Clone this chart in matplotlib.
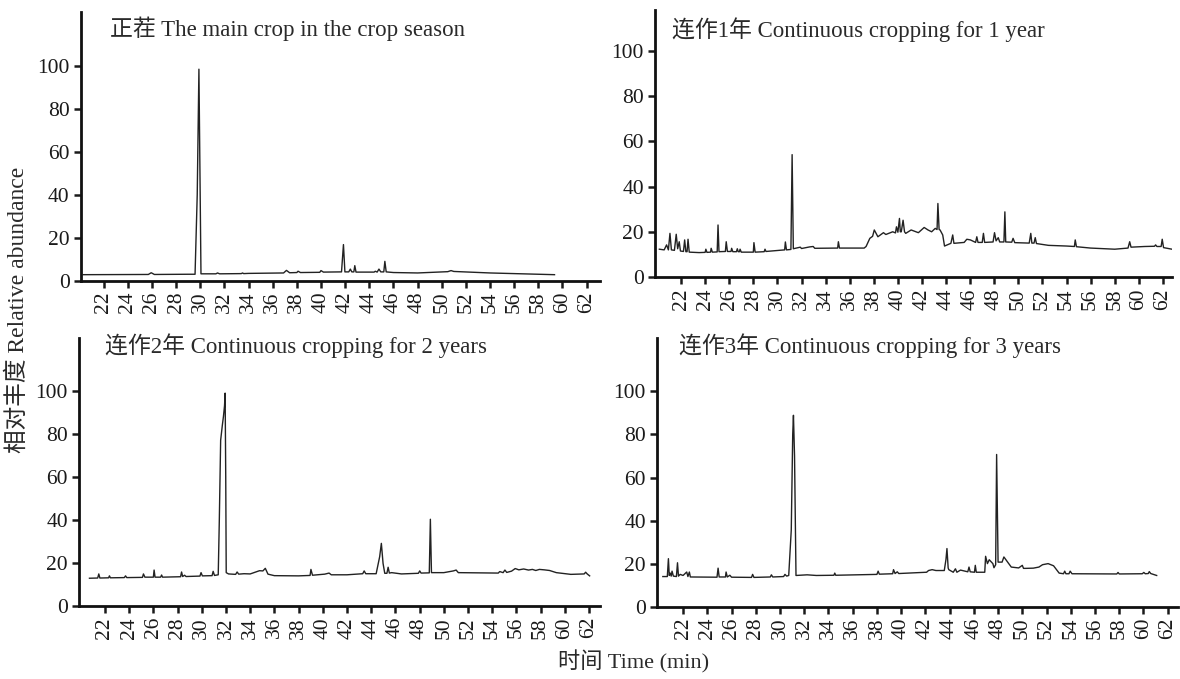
import matplotlib
matplotlib.use("Agg")
import matplotlib.pyplot as plt

plt.rcParams['font.family'] = ['Liberation Serif', 'Noto Sans CJK SC']

# (time min, relative abundance)
main_crop = [
    (20.3, 2.8), (25.7, 2.9), (25.94, 3.7), (26.2, 2.9), (29.0, 3.0), (29.57, 3.0),
    (29.75, 40.0), (29.89, 98.4), (30.06, 3.2), (31.3, 3.2), (31.43, 3.6), (31.6, 3.2),
    (33.4, 3.3), (33.5, 3.6), (33.6, 3.3), (34.0, 3.4), (36.9, 3.6), (37.14, 4.8),
    (37.4, 3.7), (38.0, 3.8), (38.1, 4.4), (38.3, 3.8), (39.9, 3.9), (40.0, 4.7),
    (40.2, 4.0), (41.7, 4.1), (41.86, 16.8), (41.98, 4.1), (42.3, 4.1), (42.43, 5.4),
    (42.55, 4.1), (42.72, 4.1), (42.8, 7.0), (42.9, 4.0), (44.4, 4.0), (44.5, 4.4),
    (44.65, 4.0), (44.8, 5.4), (44.95, 4.1), (45.2, 4.1), (45.29, 9.0), (45.4, 4.1),
    (46.0, 3.8), (48.0, 3.6), (50.5, 4.2), (50.77, 4.7), (51.0, 4.3), (54.0, 3.6),
    (59.34, 2.8),
]

year1 = [
    (20.2, 12.3), (20.6, 12.0), (20.8, 14.2), (20.95, 12.0), (21.08, 19.3), (21.2, 12.0),
    (21.45, 11.8), (21.6, 18.9), (21.72, 12.5), (21.85, 15.6), (21.95, 11.5), (22.2, 11.3),
    (22.3, 16.4), (22.4, 11.2), (22.5, 11.2), (22.58, 16.7), (22.68, 11.0), (23.5, 10.8),
    (24.0, 10.9), (24.06, 12.3), (24.15, 10.9), (24.45, 11.0), (24.5, 12.7), (24.6, 11.0),
    (25.0, 11.1), (25.07, 23.0), (25.15, 11.2), (25.68, 11.3), (25.75, 15.6), (25.85, 11.3),
    (26.15, 11.3), (26.2, 12.7), (26.3, 11.2), (26.6, 11.2), (26.67, 12.5), (26.75, 11.2),
    (26.85, 11.2), (26.9, 12.3), (27.0, 11.0), (28.0, 11.0), (28.05, 15.2), (28.15, 11.0),
    (28.9, 11.2), (28.97, 12.3), (29.05, 11.3), (30.0, 11.7), (30.6, 12.0), (30.66, 15.5),
    (30.75, 12.0), (31.12, 12.2), (31.22, 54.1), (31.32, 12.5), (31.9, 13.2), (32.0, 12.6),
    (32.66, 13.3), (32.97, 13.5), (33.1, 12.7), (35.0, 12.8), (35.06, 15.6), (35.15, 12.8),
    (37.2, 12.8), (37.36, 13.5), (37.67, 17.1), (37.9, 18.0), (38.04, 20.8), (38.34, 17.8),
    (38.8, 19.6), (39.0, 18.8), (39.57, 20.0), (39.8, 19.5), (39.88, 22.2), (40.0, 19.8),
    (40.13, 25.9), (40.2, 20.0), (40.28, 20.0), (40.43, 25.1), (40.55, 20.0), (40.65, 19.3),
    (41.1, 20.8), (41.7, 19.6), (42.18, 21.9), (42.5, 20.8), (42.8, 20.0), (43.1, 21.5),
    (43.25, 21.0), (43.32, 32.5), (43.42, 21.0), (43.5, 20.8), (43.72, 18.6), (43.87, 13.7),
    (44.4, 14.9), (44.55, 18.6), (44.65, 14.9), (45.5, 15.3), (45.72, 16.7), (46.02, 16.4),
    (46.45, 15.3), (46.55, 17.8), (46.65, 15.3), (47.0, 15.3), (47.1, 19.3), (47.2, 15.3),
    (47.9, 15.5), (48.02, 19.6), (48.15, 16.0), (48.33, 17.4), (48.45, 15.5), (48.8, 15.5),
    (48.88, 28.8), (48.95, 15.5), (49.45, 15.4), (49.56, 17.1), (49.7, 15.2), (50.9, 15.0),
    (51.03, 19.3), (51.12, 15.0), (51.3, 15.0), (51.4, 17.4), (51.5, 14.8), (52.5, 14.0),
    (54.0, 13.7), (54.65, 13.5), (54.72, 16.4), (54.82, 13.4), (56.0, 12.8), (58.0, 12.3),
    (59.1, 12.8), (59.24, 15.6), (59.35, 13.2), (60.5, 13.5), (61.3, 13.6), (61.39, 14.2),
    (61.5, 13.5), (61.85, 13.5), (61.94, 16.7), (62.05, 13.0), (62.75, 12.3),
]

year2 = [
    (20.72, 12.9), (21.4, 13.0), (21.49, 14.9), (21.58, 13.0), (22.3, 13.1), (22.37, 14.0),
    (22.45, 13.1), (23.6, 13.2), (23.7, 14.0), (23.8, 13.2), (25.1, 13.3), (25.18, 14.9),
    (25.3, 13.4), (26.0, 13.4), (26.06, 16.7), (26.14, 13.4), (26.6, 13.4), (26.68, 14.4),
    (26.76, 13.4), (28.25, 13.6), (28.33, 15.8), (28.42, 13.7), (28.58, 14.3), (28.7, 13.7),
    (29.85, 13.9), (29.94, 15.5), (30.05, 14.0), (30.85, 14.1), (30.94, 16.1), (31.05, 14.2),
    (31.36, 14.5), (31.45, 40.0), (31.56, 77.0), (31.7, 84.0), (31.79, 88.0), (31.88, 93.0),
    (31.93, 98.9), (31.98, 60.0), (32.02, 15.5), (32.21, 14.9), (32.8, 14.7), (32.92, 15.8),
    (33.05, 14.8), (33.49, 15.0), (34.0, 14.9), (34.77, 16.4), (35.05, 16.3), (35.25, 17.5),
    (35.47, 14.8), (36.0, 14.1), (38.0, 14.0), (38.95, 14.2), (39.02, 17.0), (39.15, 14.3),
    (40.16, 14.8), (40.52, 15.3), (40.7, 14.5), (42.0, 14.5), (43.3, 15.0), (43.42, 16.3),
    (43.55, 15.0), (44.41, 15.0), (44.7, 22.9), (44.84, 29.1), (44.98, 19.8), (45.12, 15.2),
    (45.3, 15.2), (45.4, 18.0), (45.5, 15.3), (45.69, 15.5), (46.5, 14.9), (47.9, 15.2),
    (48.01, 16.3), (48.12, 15.3), (48.8, 15.4), (48.89, 40.3), (48.98, 15.5), (50.0, 15.5),
    (50.79, 16.3), (51.02, 16.7), (51.2, 15.5), (54.5, 15.3), (54.62, 16.0), (54.9, 15.5),
    (55.05, 16.7), (55.2, 15.6), (55.6, 16.2), (55.9, 17.4), (56.2, 16.8), (56.6, 17.2),
    (57.0, 16.7), (57.32, 17.0), (57.6, 16.5), (57.9, 17.0), (58.3, 16.8), (58.74, 16.5),
    (59.3, 15.5), (60.5, 14.7), (61.6, 14.9), (61.72, 15.7), (61.85, 14.9), (62.05, 14.0),
]

year3 = [
    (20.33, 14.0), (20.7, 14.0), (20.79, 22.3), (20.86, 14.5), (20.94, 15.6), (21.02, 14.2),
    (21.09, 16.5), (21.2, 14.2), (21.45, 14.0), (21.54, 20.4), (21.62, 14.2), (21.76, 15.0),
    (22.0, 14.5), (22.3, 16.1), (22.4, 14.0), (22.52, 16.1), (22.6, 13.8), (24.8, 13.7),
    (24.89, 17.9), (24.98, 13.8), (25.5, 13.8), (25.55, 16.1), (25.65, 13.8), (25.86, 14.6),
    (26.0, 13.7), (27.65, 13.6), (27.74, 15.0), (27.85, 13.6), (29.2, 13.8), (29.29, 14.8),
    (29.4, 13.8), (30.3, 14.0), (30.41, 15.0), (30.55, 14.2), (30.72, 14.5), (30.93, 35.6),
    (31.05, 80.0), (31.11, 88.9), (31.2, 70.0), (31.32, 14.5), (32.24, 14.8), (33.0, 14.5),
    (34.45, 14.6), (34.52, 15.6), (34.6, 14.6), (38.0, 15.0), (38.1, 16.5), (38.2, 15.1),
    (39.3, 15.3), (39.37, 17.2), (39.5, 15.4), (39.68, 16.2), (39.8, 15.4), (42.1, 16.0),
    (42.26, 16.8), (42.56, 17.2), (42.87, 16.8), (43.56, 16.8), (43.7, 22.0), (43.78, 27.0),
    (43.88, 18.0), (43.93, 17.2), (44.3, 16.0), (44.48, 17.6), (44.6, 16.0), (44.9, 17.0),
    (45.5, 16.2), (45.6, 18.4), (45.7, 16.2), (46.05, 16.0), (46.12, 19.2), (46.2, 16.0),
    (46.9, 16.0), (46.97, 23.4), (47.12, 20.0), (47.27, 21.8), (47.57, 20.0), (47.66, 18.1),
    (47.8, 19.5), (47.88, 70.7), (48.0, 20.7), (48.33, 20.7), (48.48, 23.1), (48.79, 20.7),
    (49.09, 18.4), (49.7, 18.0), (50.0, 19.2), (50.1, 17.8), (50.3, 17.8), (50.91, 17.9),
    (51.37, 18.4), (51.67, 19.5), (52.13, 20.0), (52.58, 19.0), (53.04, 15.6), (53.4, 15.3),
    (53.5, 16.5), (53.6, 15.3), (53.85, 15.3), (53.95, 16.5), (54.1, 15.3), (57.8, 15.2),
    (57.9, 15.9), (58.0, 15.2), (59.9, 15.3), (60.03, 15.9), (60.15, 15.3), (60.4, 15.4),
    (60.48, 16.3), (60.6, 15.4), (61.09, 14.5),
]

titles = [
    "正茬 The main crop in the crop season",
    "连作1年 Continuous cropping for 1 year",
    "连作2年 Continuous cropping for 2 years",
    "连作3年 Continuous cropping for 3 years",
]
x_ticks = list(range(22, 63, 2))
y_ticks = [0, 20, 40, 60, 80, 100]

# axes boxes in figure fraction, x and y limits per panel
boxes = [
    [0.0684, 0.5866, 0.440, 0.3957],
    [0.5551, 0.5920, 0.4381, 0.3932],
    [0.0669, 0.1075, 0.4415, 0.3947],
    [0.5568, 0.1065, 0.4415, 0.3957],
]
xlims = [(20.1, 63.1), (19.84, 62.75), (19.85, 62.9), (19.85, 62.85)]
ylims = [(0, 125), (0, 118), (0, 124.5), (0, 124.8)]
title_pos = [(110, 29), (672, 30), (105, 346), (679, 346)]

W, H = 1180, 679
fig = plt.figure(figsize=(W / 100, H / 100), dpi=100)

for i, data in enumerate([main_crop, year1, year2, year3]):
    ax = fig.add_axes(boxes[i])
    t, y = zip(*data)
    ax.plot(t, y, color='#222222', lw=1.0)
    ax.set_xlim(*xlims[i])
    ax.set_ylim(*ylims[i])
    ax.set_xticks(x_ticks)
    ax.set_xticklabels([str(v) for v in x_ticks], rotation=90)
    ax.set_yticks(y_ticks)
    ax.tick_params(axis='both', direction='out', length=5, width=1.8,
                   labelsize=15.5, colors='#1a1a1a', pad=3)
    for s in ['top', 'right']:
        ax.spines[s].set_visible(False)
    for s in ['left', 'bottom']:
        ax.spines[s].set_linewidth(2.0)
        ax.spines[s].set_color('#111111')
    tx, ty = title_pos[i]
    fig.text(tx / W, 1 - ty / H, titles[i], fontsize=16.5, color='#2a2a2a',
             ha='left', va='center')

fig.text(18 / W, 1 - 310 / H, "相对丰度 Relative abundance", rotation=90,
         fontsize=17, color='#2a2a2a', ha='center', va='center')
fig.text(634 / W, 1 - 662 / H, "时间 Time (min)", fontsize=16,
         color='#2a2a2a', ha='center', va='center')

fig.savefig("out.png", dpi=100)
